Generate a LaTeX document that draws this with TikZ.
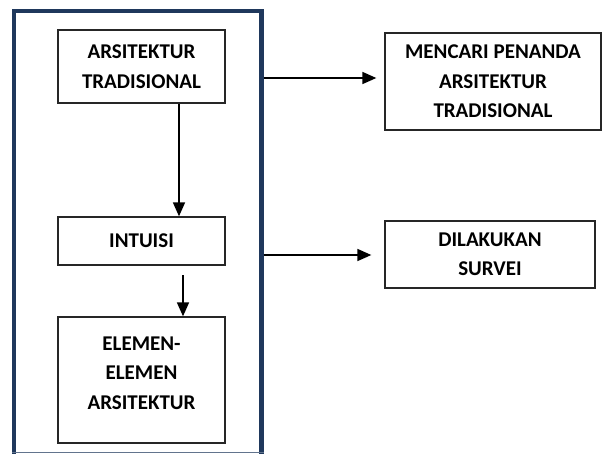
\documentclass[tikz,border=0pt]{standalone}
\usepackage{fontspec}
\setmainfont{Carlito}
\usetikzlibrary{arrows.meta}
\definecolor{framenavy}{RGB}{31,56,92}

\begin{document}
\begin{tikzpicture}[x=1pt,y=-1pt,
    box/.style={
        draw=black!85,
        line width=1.3pt,
        align=center,
        inner sep=0pt,
        font=\fontsize{21}{29.5}\selectfont\bfseries
    },
    link/.style={line width=1.6pt,-{Triangle[width=12pt,length=14pt]}}
    ]
    \useasboundingbox (0,0) rectangle (603,453);
    \clip (0,0) rectangle (603,453);
    \draw[framenavy,line width=4.5pt] (14,11) rectangle (261.5,470);
    \draw[framenavy!70,line width=1pt] (12,452) -- (264,452);

    \node[box,minimum width=167pt,minimum height=73pt] (trad) at (141.5,66.5)
        {ARSITEKTUR\\TRADISIONAL};
    \node[box,minimum width=167pt,minimum height=48pt] (intuisi) at (141.5,241)
        {INTUISI};
    \node[box,minimum width=167pt,minimum height=126pt] (elemen) at (141.5,380)
        {ELEMEN-\\ELEMEN\\ARSITEKTUR\\[-15.5pt]{}};
    \node[box,minimum width=216pt,minimum height=97pt] (penanda) at (493,81.5)
        {MENCARI PENANDA\\ARSITEKTUR\\TRADISIONAL};
    \node[box,minimum width=210pt,minimum height=67pt] (survei) at (490,254.5)
        {DILAKUKAN\\SURVEI};

    \coordinate (out1) at (263.5,78);
    \coordinate (out2) at (263.5,255);
    \coordinate (gap) at (183,275);

    \draw[link] (trad.south -| 179,0) -- (intuisi.north -| 179,0);
    \draw[link] (gap) -- (elemen.north -| gap);
    \draw[link] (out1) -- ([xshift=-8pt]penanda.west |- out1);
    \draw[link] (out2) -- ([xshift=-13pt]survei.west |- out2);
\end{tikzpicture}
\end{document}
